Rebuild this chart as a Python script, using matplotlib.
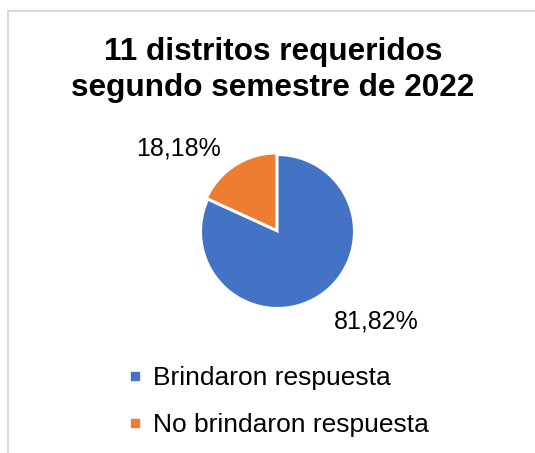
import matplotlib.pyplot as plt
from matplotlib.patches import Rectangle
from matplotlib.lines import Line2D

plt.rcParams['font.family'] = ['Liberation Sans', 'DejaVu Sans']

categories = ['Brindaron respuesta', 'No brindaron respuesta']
values = [81.82, 18.18]
pct_labels = ['81,82%', '18,18%']
colors = ['#4472C4', '#ED7D31']
title = '11 distritos requeridos\nsegundo semestre de 2022'

W, H = 535, 453
fig = plt.figure(figsize=(W / 100, H / 100), dpi=100)

# light gray chart border (runs off the right and bottom edges)
fig.patches.append(Rectangle((8 / W, 0 - 0.05), 1.1, (H - 11) / H + 0.05,
                             transform=fig.transFigure, fill=False,
                             edgecolor='#D9D9D9', linewidth=1.5))

fig.text(273 / W, 1 - 70 / H, title, ha='center', va='center',
         fontsize=22.7, fontweight='bold', linespacing=1.28)

# pie axes: centre (277.5, 231.5) px, radius 76.5 px
cx, cy, r = 277.5, 231.5, 76.5
lim = 1.2
side = r * lim * 2
ax = fig.add_axes([(cx - side / 2) / W, (H - cy - side / 2) / H, side / W, side / H])
ax.pie(values, colors=colors, startangle=90, counterclock=False,
       explode=[0, 0.025], radius=1,
       wedgeprops=dict(edgecolor='white', linewidth=1.5))
ax.set_xlim(-lim, lim)
ax.set_ylim(-lim, lim)
ax.set_aspect('equal')
ax.axis('off')

ax.text(1.29, -1.18, pct_labels[0], ha='center', va='center', fontsize=18,
        clip_on=False)
ax.text(-1.30, 1.09, pct_labels[1], ha='center', va='center', fontsize=18,
        clip_on=False)

handles = [Line2D([], [], marker='s', linestyle='none', markersize=6,
                  markerfacecolor=c, markeredgecolor=c) for c in colors]
fig.legend(handles, categories, loc='upper left',
           bbox_to_anchor=(127 / W, 1 - 366 / H), frameon=False,
           fontsize=19, handlelength=0.6, handletextpad=0.4,
           labelspacing=0.88, borderpad=0, borderaxespad=0)

fig.savefig('out.png', dpi=100)
